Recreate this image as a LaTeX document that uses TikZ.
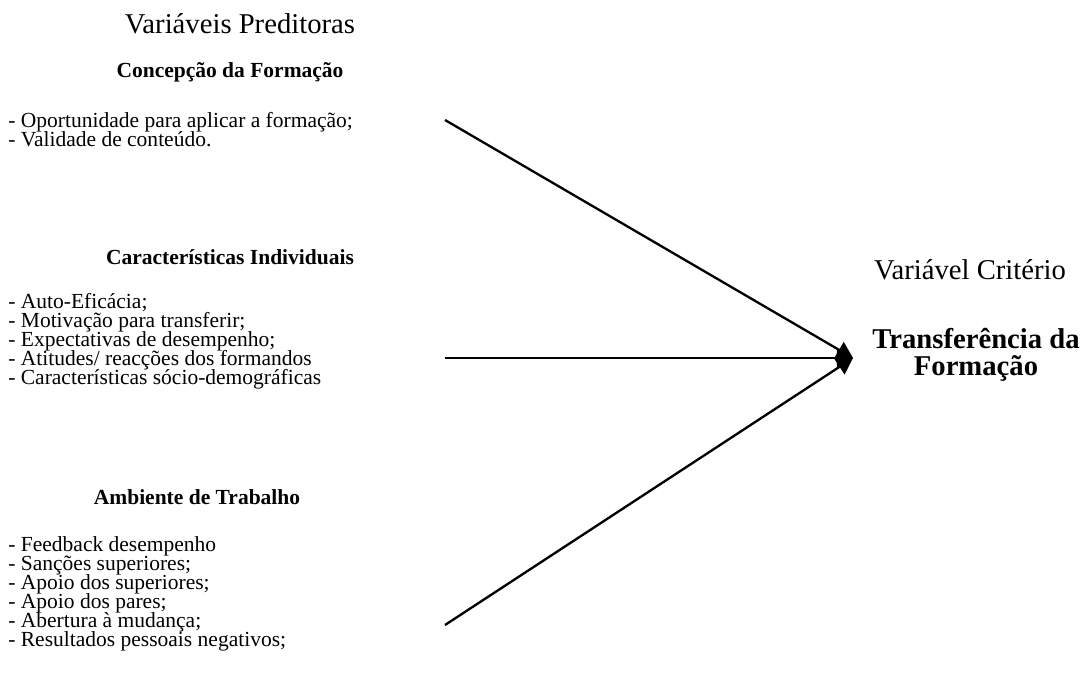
\documentclass[tikz,border=0pt]{standalone}
\usepackage{fontspec}
\setmainfont{Liberation Serif}
\usetikzlibrary{arrows.meta}
\tikzset{
  heading/.style={font=\fontsize{16}{15}\selectfont},
  groupname/.style={font=\bfseries\fontsize{12}{11}\selectfont},
  critname/.style={align=center, font=\bfseries\fontsize{16}{15}\selectfont\setlength\lineskiplimit{-5pt}},
  itemlist/.style={align=left, anchor=north west, inner sep=0pt, font=\fontsize{12}{10.6}\selectfont\setlength\lineskiplimit{-5pt}},
  link/.style={line width=1.3pt, -{Triangle[length=9pt,width=10pt]}}
}

\begin{document}
\begin{tikzpicture}[x=0.558pt, y=-0.558pt]
            \useasboundingbox (0,0) rectangle (1089,680);

            % Predictors
            \node[heading] (predtitle) at (240,24) {Variáveis Preditoras};
            \node[groupname] (concep) at (230,72) {Concepção da Formação};
            \node[itemlist] (concepitems) at (8,112) {- Oportunidade para aplicar a formação;\\- Validade de conteúdo.};
            
            \node[groupname] (indiv) at (230,257) {Características Individuais};
            \node[itemlist] (indivitems) at (8,293) {- Auto-Eficácia;\\- Motivação para transferir;\\- Expectativas de desempenho;\\- Atitudes/ reacções dos formandos\\- Características sócio-demográficas};
            
            \node[groupname] (work) at (197,497) {Ambiente de Trabalho};
            \node[itemlist] (workitems) at (8,536) {- Feedback desempenho\\- Sanções superiores;\\- Apoio dos superiores;\\- Apoio dos pares;\\- Abertura à mudança;\\- Resultados pessoais negativos;};
            
            % Criterion
            \node[heading] (crittitle) at (970,270) {Variável Critério};
            \node[critname] (transf) at (976,355) {Transferência da\\Formação};
            
            % Arrows
            \coordinate (concepend) at (445,120);
            \coordinate (indivend) at (445,358);
            \coordinate (workend) at (445,625);
            \coordinate (meet) at (853,358);
            \draw[link] (concepend) -- (meet);
            \draw[link] (indivend) -- (meet);
            \draw[link] (workend) -- (meet);
        \end{tikzpicture}
\end{document}
